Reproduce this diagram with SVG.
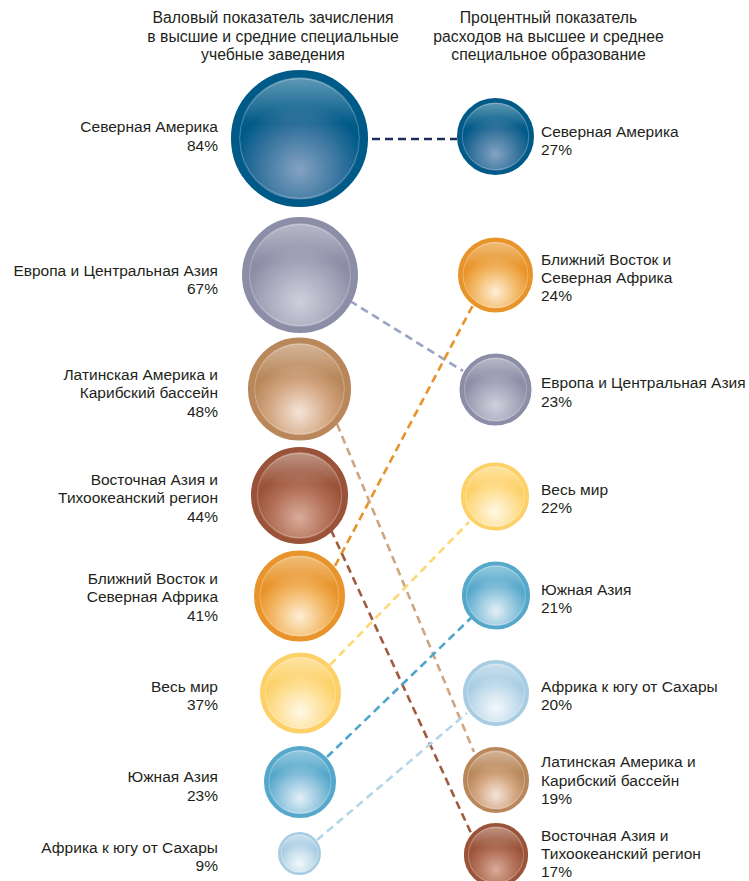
<svg xmlns="http://www.w3.org/2000/svg" width="749" height="881" viewBox="0 0 749 881">
<style>
text{font-family:"Liberation Sans",Arial,sans-serif;font-size:15.5px;fill:#231f20}
.l{text-anchor:end}
.h{text-anchor:middle;font-size:15.8px}
.c{fill:none;stroke-width:2.6;stroke-dasharray:8 5}
.gl{fill:url(#gloss)}
.hl{fill:none;stroke:#ffffff;stroke-opacity:.45;stroke-width:.6}
</style>
<defs>
<linearGradient id="gloss" x1="0" y1="0" x2="0" y2="1">
<stop offset="0" stop-color="#fff" stop-opacity=".38"/>
<stop offset=".38" stop-color="#fff" stop-opacity="0"/>
<stop offset="1" stop-color="#fff" stop-opacity="0"/>
</linearGradient>
<radialGradient id="g-na" cx=".5" cy=".74" r=".6"><stop offset="0" stop-color="#84a2c2"/><stop offset=".5" stop-color="#3a76a0"/><stop offset=".85" stop-color="#005a88"/><stop offset="1" stop-color="#005a88"/></radialGradient>
<radialGradient id="g-eu" cx=".5" cy=".74" r=".6"><stop offset="0" stop-color="#cfcfdc"/><stop offset=".5" stop-color="#aaaabe"/><stop offset=".85" stop-color="#8c8da6"/><stop offset="1" stop-color="#8c8da6"/></radialGradient>
<radialGradient id="g-la" cx=".5" cy=".74" r=".6"><stop offset="0" stop-color="#f5e4d8"/><stop offset=".5" stop-color="#d4a884"/><stop offset=".85" stop-color="#b9875a"/><stop offset="1" stop-color="#b9875a"/></radialGradient>
<radialGradient id="g-ea" cx=".5" cy=".74" r=".6"><stop offset="0" stop-color="#d8ac9a"/><stop offset=".5" stop-color="#b4725a"/><stop offset=".85" stop-color="#9a5339"/><stop offset="1" stop-color="#9a5339"/></radialGradient>
<radialGradient id="g-me" cx=".5" cy=".74" r=".6"><stop offset="0" stop-color="#fdeed4"/><stop offset=".5" stop-color="#f3b968"/><stop offset=".85" stop-color="#e8942a"/><stop offset="1" stop-color="#e8942a"/></radialGradient>
<radialGradient id="g-wo" cx=".5" cy=".74" r=".6"><stop offset="0" stop-color="#fff8e6"/><stop offset=".5" stop-color="#fee29c"/><stop offset=".85" stop-color="#fdd168"/><stop offset="1" stop-color="#fdd168"/></radialGradient>
<radialGradient id="g-sa" cx=".5" cy=".74" r=".6"><stop offset="0" stop-color="#e3eff7"/><stop offset=".5" stop-color="#92c5de"/><stop offset=".85" stop-color="#55a8cb"/><stop offset="1" stop-color="#55a8cb"/></radialGradient>
<radialGradient id="g-af" cx=".5" cy=".74" r=".6"><stop offset="0" stop-color="#f1f8fc"/><stop offset=".5" stop-color="#cae1ee"/><stop offset=".85" stop-color="#a8cde3"/><stop offset="1" stop-color="#a8cde3"/></radialGradient>
</defs>

<g id="headers">
<text class="h" x="273" y="23">Валовый показатель зачисления</text>
<text class="h" x="273" y="41.5">в высшие и средние специальные</text>
<text class="h" x="273" y="60">учебные заведения</text>
<text class="h" x="548.5" y="23">Процентный показатель</text>
<text class="h" x="548.5" y="41.5">расходов на высшее и среднее</text>
<text class="h" x="548.5" y="60">специальное образование</text>
</g>

<g id="connectors">
<line class="c" stroke="#1f2d5c" x1="372" y1="139" x2="457" y2="139"/>
<line class="c" stroke="#9aa3c4" x1="350" y1="301" x2="463" y2="371"/>
<line class="c" stroke="#e8922a" x1="335" y1="566" x2="473" y2="305"/>
<line class="c" stroke="#d0a57f" x1="337" y1="424" x2="474" y2="752"/>
<line class="c" stroke="#a05a40" x1="331" y1="530" x2="471" y2="833"/>
<line class="c" stroke="#fdd873" x1="330" y1="665" x2="469" y2="522"/>
<line class="c" stroke="#4ea5cb" x1="327" y1="757" x2="472" y2="617"/>
<line class="c" stroke="#b5d5e8" x1="317" y1="840" x2="467" y2="713"/>
</g>

<!-- Left column -->
<g id="L-na">
<circle cx="299.5" cy="138.5" r="64.8" fill="url(#g-na)" stroke="#005a88" stroke-width="7.5"/>
<circle cx="299.5" cy="138.5" r="61" class="gl"/>
<circle cx="299.5" cy="138.5" r="59.8" class="hl"/>
<text class="l" x="218" y="132">Северная Америка</text>
<text class="l" x="218" y="150.5">84%</text>
</g>
<g id="L-eu">
<circle cx="300" cy="275" r="54.8" fill="url(#g-eu)" stroke="#8c8da6" stroke-width="6.4"/>
<circle cx="300" cy="275" r="51.6" class="gl"/>
<circle cx="300" cy="275" r="50.5" class="hl"/>
<text class="l" x="218" y="275.5">Европа и Центральная Азия</text>
<text class="l" x="218" y="294">67%</text>
</g>
<g id="L-la">
<circle cx="299.5" cy="389" r="48.7" fill="url(#g-la)" stroke="#b9875a" stroke-width="5.7"/>
<circle cx="299.5" cy="389" r="45.8" class="gl"/>
<circle cx="299.5" cy="389" r="44.8" class="hl"/>
<text class="l" x="218" y="380">Латинская Америка и</text>
<text class="l" x="218" y="398.3">Карибский бассейн</text>
<text class="l" x="218" y="416.7">48%</text>
</g>
<g id="L-ea">
<circle cx="299.5" cy="495.5" r="45.9" fill="url(#g-ea)" stroke="#9a5339" stroke-width="5.3"/>
<circle cx="299.5" cy="495.5" r="43.2" class="gl"/>
<circle cx="299.5" cy="495.5" r="42.1" class="hl"/>
<text class="l" x="218" y="485">Восточная Азия и</text>
<text class="l" x="218" y="503.3">Тихоокеанский регион </text>
<text class="l" x="218" y="521.6">44%</text>
</g>
<g id="L-me">
<circle cx="299.5" cy="596" r="43" fill="url(#g-me)" stroke="#e8942a" stroke-width="5"/>
<circle cx="299.5" cy="596" r="40.5" class="gl"/>
<circle cx="299.5" cy="596" r="39.5" class="hl"/>
<text class="l" x="218" y="584">Ближний Восток и</text>
<text class="l" x="218" y="602.3">Северная Африка</text>
<text class="l" x="218" y="620.7">41%</text>
</g>
<g id="L-wo">
<circle cx="300.5" cy="693" r="38.3" fill="url(#g-wo)" stroke="#fdd168" stroke-width="4.4"/>
<circle cx="300.5" cy="693" r="36.1" class="gl"/>
<circle cx="300.5" cy="693" r="35.1" class="hl"/>
<text class="l" x="218" y="691.7">Весь мир</text>
<text class="l" x="218" y="710">37%</text>
</g>
<g id="L-sa">
<circle cx="300" cy="782" r="34" fill="url(#g-sa)" stroke="#55a8cb" stroke-width="4"/>
<circle cx="300" cy="782" r="32" class="gl"/>
<circle cx="300" cy="782" r="31" class="hl"/>
<text class="l" x="218" y="782.3">Южная Азия</text>
<text class="l" x="218" y="800.6">23%</text>
</g>
<g id="L-af">
<circle cx="299.5" cy="853.5" r="20.3" fill="url(#g-af)" stroke="#a8cde3" stroke-width="2.4"/>
<circle cx="299.5" cy="853.5" r="19.1" class="gl"/>
<circle cx="299.5" cy="853.5" r="18.3" class="hl"/>
<text class="l" x="218" y="853.3">Африка к югу от Сахары</text>
<text class="l" x="218" y="871">9%</text>
</g>

<!-- Right column -->
<g id="R-na">
<circle cx="495.5" cy="136.5" r="36.3" fill="url(#g-na)" stroke="#005a88" stroke-width="4.4"/>
<circle cx="495.5" cy="136.5" r="34.1" class="gl"/>
<circle cx="495.5" cy="136.5" r="33.2" class="hl"/>
<text x="541" y="137">Северная Америка</text>
<text x="541" y="155.3">27%</text>
</g>
<g id="R-me">
<circle cx="495.5" cy="275" r="35.4" fill="url(#g-me)" stroke="#e8942a" stroke-width="4.2"/>
<circle cx="495.5" cy="275" r="33.3" class="gl"/>
<circle cx="495.5" cy="275" r="32.4" class="hl"/>
<text x="541" y="265">Ближний Восток и</text>
<text x="541" y="283">Северная Африка</text>
<text x="541" y="301">24%</text>
</g>
<g id="R-eu">
<circle cx="495.5" cy="389.5" r="34" fill="url(#g-eu)" stroke="#8c8da6" stroke-width="4"/>
<circle cx="495.5" cy="389.5" r="32" class="gl"/>
<circle cx="495.5" cy="389.5" r="31" class="hl"/>
<text x="541" y="388.3">Европа и Центральная Азия</text>
<text x="541" y="406.7">23%</text>
</g>
<g id="R-wo">
<circle cx="495" cy="496.5" r="32.2" fill="url(#g-wo)" stroke="#fdd168" stroke-width="3.8"/>
<circle cx="495" cy="496.5" r="30.3" class="gl"/>
<circle cx="495" cy="496.5" r="29.4" class="hl"/>
<text x="541" y="495">Весь мир</text>
<text x="541" y="513.3">22%</text>
</g>
<g id="R-sa">
<circle cx="496" cy="595.5" r="32.2" fill="url(#g-sa)" stroke="#55a8cb" stroke-width="3.8"/>
<circle cx="496" cy="595.5" r="30.3" class="gl"/>
<circle cx="496" cy="595.5" r="29.4" class="hl"/>
<text x="541" y="595">Южная Азия</text>
<text x="541" y="613.3">21%</text>
</g>
<g id="R-af">
<circle cx="496" cy="693" r="31.2" fill="url(#g-af)" stroke="#a8cde3" stroke-width="3.7"/>
<circle cx="496" cy="693" r="29.4" class="gl"/>
<circle cx="496" cy="693" r="28.5" class="hl"/>
<text x="541" y="691.7">Африка к югу от Сахары</text>
<text x="541" y="709.5">20%</text>
</g>
<g id="R-la">
<circle cx="496" cy="780" r="31.2" fill="url(#g-la)" stroke="#b9875a" stroke-width="3.7"/>
<circle cx="496" cy="780" r="29.4" class="gl"/>
<circle cx="496" cy="780" r="28.5" class="hl"/>
<text x="541" y="767.3">Латинская Америка и</text>
<text x="541" y="785.7">Карибский бассейн</text>
<text x="541" y="804">19%</text>
</g>
<g id="R-ea">
<circle cx="496" cy="855" r="30.3" fill="url(#g-ea)" stroke="#9a5339" stroke-width="3.6"/>
<circle cx="496" cy="855" r="28.5" class="gl"/>
<circle cx="496" cy="855" r="27.6" class="hl"/>
<text x="541" y="841">Восточная Азия и</text>
<text x="541" y="859">Тихоокеанский регион</text>
<text x="541" y="877">17%</text>
</g>
</svg>
